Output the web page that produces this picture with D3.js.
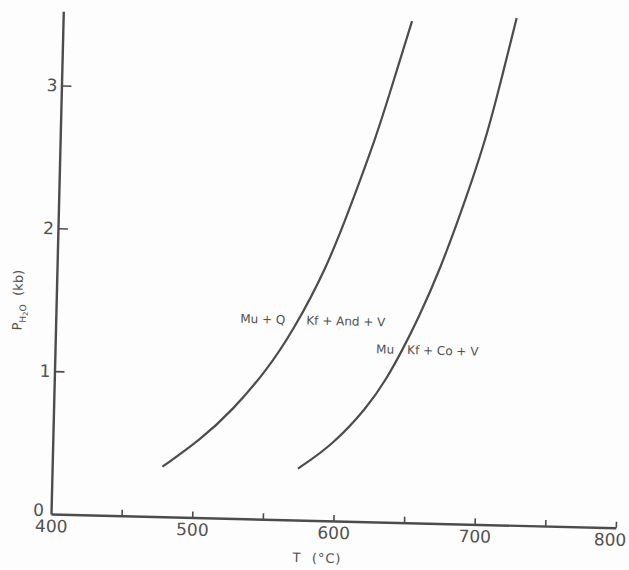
<!DOCTYPE html>
<html>
<head>
<meta charset="utf-8">
<script src="https://cdn.jsdelivr.net/npm/d3@7"></script>
<style>
  body { margin: 0; background: #fdfdfd; }
  text { font-family: "DejaVu Sans", sans-serif; fill: #505050; }
</style>
</head>
<body>
<div id="chart"></div>
<script>
// curve readings (T in °C, P in kb)
const curve1T = [478, 504, 527, 550, 568, 591, 608, 624, 631, 647];
const curve1P = [0.35, 0.54, 0.76, 1.04, 1.32, 1.77, 2.24, 2.71, 2.95, 3.51];
const curve2T = [574, 598, 622, 635, 646, 656, 671, 689, 700, 707, 721];
const curve2P = [0.36, 0.53, 0.80, 1.00, 1.21, 1.42, 1.77, 2.30, 2.66, 2.93, 3.55];

const xTicks = [400, 450, 500, 550, 600, 650, 700, 750, 800];
const xLabels = [400, 500, 600, 700, 800];
const yTicks = [0, 1, 2, 3];

const labels = [
    { left: "Mu + Q", right: "Kf + And + V", T: 571, P: 1.40, gapL: 12, gapR: 9 },
    { left: "Mu", right: "Kf + Co + V", T: 645, P: 1.21, gapL: 7, gapR: 6 }
];

const ink = "#4c4c4c";

const svg = d3.select("#chart")
    .append("svg")
    .attr("width", 629)
    .attr("height", 570);

// the scan is turned a little, so the whole plot is rotated about the origin
const g = svg.append("g")
    .attr("transform", "translate(51,514) rotate(1.4)");

const x = d3.scaleLinear()
    .domain([400, 800])
    .range([0, 565]);

const y = d3.scaleLinear()
    .domain([0, 3.52])
    .range([0, -503]);

const xAxis = g.append("g")
    .call(d3.axisBottom(x)
        .tickValues(xTicks)
        .tickSizeInner(-6)
        .tickSizeOuter(0)
        .tickPadding(6)
        .tickFormat(d => xLabels.includes(d) ? d : ""));

const yAxis = g.append("g")
    .call(d3.axisLeft(y)
        .tickValues(yTicks)
        .tickSizeInner(-10)
        .tickSizeOuter(0)
        .tickPadding(4)
        .tickFormat(d3.format("d")));

[xAxis, yAxis].forEach(a => {
    a.select(".domain").attr("stroke", ink).attr("stroke-width", 2.4);
    a.selectAll(".tick line").attr("stroke", ink).attr("stroke-width", 1.6);
    a.selectAll(".tick text")
        .attr("font-size", 17)
        .attr("font-family", "DejaVu Sans")
        .attr("fill", ink);
});
// no tick mark at 0 or 400, only the labels
yAxis.selectAll(".tick").filter(d => d === 0).select("line").remove();
yAxis.selectAll(".tick").filter(d => d === 0).select("text").attr("dx", -3).attr("dy", "0.1em");
xAxis.selectAll(".tick").filter(d => d === 400).select("line").remove();
// the last label sits a bit left of its tick, keeping it inside the frame
xAxis.selectAll(".tick").filter(d => d === 800).select("text").attr("dx", -6);

const line = d3.line()
    .x(d => x(d[0]))
    .y(d => y(d[1]))
    .curve(d3.curveBasis);

[[curve1T, curve1P], [curve2T, curve2P]].forEach(([ts, ps]) => {
    g.append("path")
        .datum(ts.map((t, i) => [t, ps[i]]))
        .attr("fill", "none")
        .attr("stroke", ink)
        .attr("stroke-width", 2.2)
        .attr("d", line);
});

labels.forEach(l => {
    g.append("text")
        .attr("x", x(l.T) - l.gapL)
        .attr("y", y(l.P))
        .attr("dy", "0.36em")
        .attr("text-anchor", "end")
        .attr("font-size", 12)
        .text(l.left);
    g.append("text")
        .attr("x", x(l.T) + l.gapR)
        .attr("y", y(l.P))
        .attr("dy", "0.36em")
        .attr("text-anchor", "start")
        .attr("font-size", 12)
        .text(l.right);
});

// axis titles
g.append("text")
    .attr("x", 267)
    .attr("y", 42)
    .attr("text-anchor", "middle")
    .attr("font-size", 13)
    .attr("letter-spacing", 1)
    .style("white-space", "pre")
    .text("T  (°C)");

const yt = g.append("text")
    .attr("transform", "translate(-34,-213) rotate(-90)")
    .attr("text-anchor", "middle")
    .attr("font-size", 13);
yt.append("tspan").text("P");
yt.append("tspan").attr("font-size", 9).attr("dy", 4).text("H");
yt.append("tspan").attr("font-size", 7).attr("dy", 2).text("2");
yt.append("tspan").attr("font-size", 9).attr("dy", -2).text("O");
yt.append("tspan").attr("dy", -4).style("white-space", "pre").text("  (kb)");
</script>
</body>
</html>
